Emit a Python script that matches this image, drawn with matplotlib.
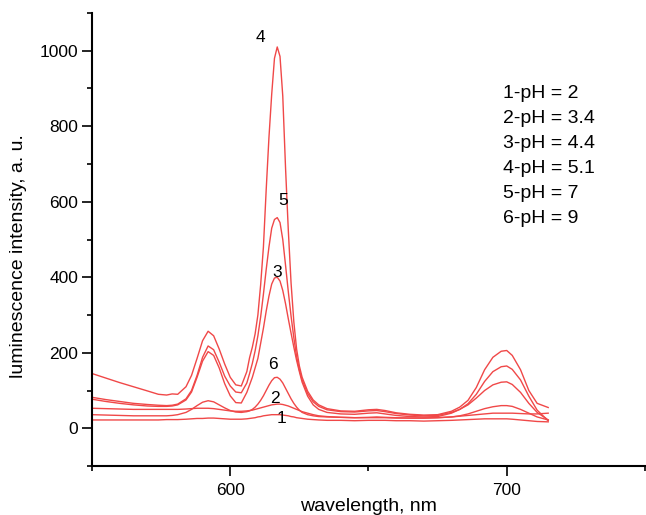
import matplotlib
matplotlib.use("Agg")
import matplotlib.pyplot as plt
from matplotlib.ticker import MultipleLocator

plt.rcParams["font.family"] = ["Liberation Sans", "DejaVu Sans"]

# =========================
# DATA
# =========================
wavelength = [550, 555, 560, 565, 570, 574, 577, 579, 581, 584, 586, 588, 590, 592, 594, 596, 598, 600, 602, 604,
              606, 607, 608, 609, 610, 611, 612, 613, 614, 615, 616, 617, 618, 619, 620, 621, 622, 623, 624, 625,
              626, 628, 630, 632, 635, 640, 645, 650, 653, 656, 660, 665, 670, 675, 680, 683, 686, 689, 692, 695,
              698, 700, 702, 705, 708, 711, 715]

ph_2 = [22, 22, 22, 22, 22, 22, 23, 23, 23, 24, 25, 26, 26, 27, 27, 26, 25, 24, 24, 24,
        25, 26, 27, 28, 30, 31, 33, 34, 35, 36, 36, 36, 36, 35, 34, 33, 31, 30, 28, 27,
        26, 24, 23, 22, 21, 21, 20, 21, 21, 21, 20, 20, 19, 20, 21, 22, 23, 24, 25, 25,
        25, 25, 24, 22, 20, 18, 17]

ph_34 = [53, 52, 51, 50, 50, 50, 50, 50, 50, 51, 52, 53, 53, 53, 52, 50, 48, 46, 45, 45,
         46, 47, 48, 50, 52, 54, 56, 58, 60, 62, 63, 64, 64, 63, 61, 59, 56, 53, 50, 47,
         44, 40, 36, 33, 31, 29, 28, 28, 28, 28, 27, 27, 27, 28, 30, 32, 34, 36, 38, 40,
         40, 40, 40, 39, 38, 38, 40]

ph_44 = [77, 71, 66, 62, 59, 58, 58, 59, 62, 75, 96, 135, 178, 203, 193, 160, 118, 86, 68, 67,
         95, 115, 135, 160, 185, 225, 265, 310, 350, 382, 398, 400, 390, 365, 330, 290, 252, 215, 180, 150,
         122, 85, 62, 50, 42, 38, 37, 40, 41, 38, 34, 31, 30, 31, 40, 50, 62, 80, 100, 115,
         122, 123, 116, 95, 66, 42, 22]

ph_51 = [145, 133, 121, 110, 99, 90, 88, 91, 90, 110, 140, 185, 232, 257, 245, 210, 170, 135, 115, 112,
         150, 187, 215, 250, 300, 380, 480, 631, 770, 885, 980, 1010, 985, 880, 690, 525, 385, 282, 210, 165,
         135, 98, 75, 62, 52, 46, 45, 49, 50, 47, 41, 37, 35, 36, 45, 56, 74, 108, 155, 188,
         204, 206, 193, 155, 100, 66, 55]

ph_7 = [82, 76, 71, 66, 63, 61, 60, 61, 64, 78, 100, 140, 188, 218, 208, 175, 138, 112, 96, 94,
        120, 145, 172, 205, 245, 295, 355, 420, 480, 530, 553, 558, 545, 500, 432, 362, 297, 240, 190, 155,
        128, 92, 70, 58, 49, 44, 43, 46, 47, 44, 39, 35, 33, 34, 42, 50, 65, 90, 124, 150,
        163, 165, 156, 128, 85, 48, 20]

ph_9 = [36, 35, 34, 33, 33, 33, 33, 34, 36, 42, 50, 60, 69, 73, 70, 62, 54, 47, 43, 42,
        44, 46, 50, 56, 64, 74, 86, 100, 114, 126, 134, 135, 130, 120, 106, 92, 78, 66, 56, 48,
        42, 36, 33, 31, 30, 29, 28, 29, 30, 29, 28, 27, 27, 28, 30, 33, 38, 45, 52, 57,
        60, 60, 58, 50, 40, 30, 22]

series = [ph_2, ph_34, ph_44, ph_51, ph_7, ph_9]

curve_labels = ["1", "2", "3", "4", "5", "6"]
label_x = [618.6, 616.2, 616.8, 610.8, 619.2, 615.6]
label_y = [25, 78, 412, 1036, 604, 169]

legend_lines = ["1-pH = 2", "2-pH = 3.4", "3-pH = 4.4", "4-pH = 5.1", "5-pH = 7", "6-pH = 9"]

# =========================
# PLOT
# =========================
fig = plt.figure(figsize=(6.46, 5.15), dpi=100)
ax = fig.add_axes([0.1424, 0.0951, 0.856, 0.8797])

for s in series:
    ax.plot(wavelength, s, color="#f04848", lw=1.0)

for t, x, y in zip(curve_labels, label_x, label_y):
    ax.text(x, y, t, fontsize=12.5, ha="center", va="center", color="black")

for i, t in enumerate(legend_lines):
    fig.text(503 / 646, 1 - (93 + i * 25.2) / 515, t, fontsize=14, ha="left", va="center")

ax.set_xlim(550, 750)
ax.set_ylim(-100, 1100)
ax.xaxis.set_minor_locator(MultipleLocator(50))
ax.yaxis.set_minor_locator(MultipleLocator(100))
ax.set_yticks([0, 200, 400, 600, 800, 1000])
ax.set_xticks([600, 700])

for side in ["top", "right"]:
    ax.spines[side].set_visible(False)
for side in ["left", "bottom"]:
    ax.spines[side].set_linewidth(1.5)

ax.tick_params(which="major", direction="out", length=7, width=1.2, labelsize=12.5, pad=3)
ax.tick_params(which="minor", direction="out", length=3.5, width=1.2)
ax.tick_params(axis="x", which="major", pad=5)

ax.set_xlabel("wavelength, nm", fontsize=14)
ax.set_ylabel("luminescence intensity, a. u.", fontsize=14)
ax.xaxis.set_label_coords(0.5, -0.07)
ax.yaxis.set_label_coords(-0.117, 0.4636)

fig.savefig("out.png", dpi=100)
